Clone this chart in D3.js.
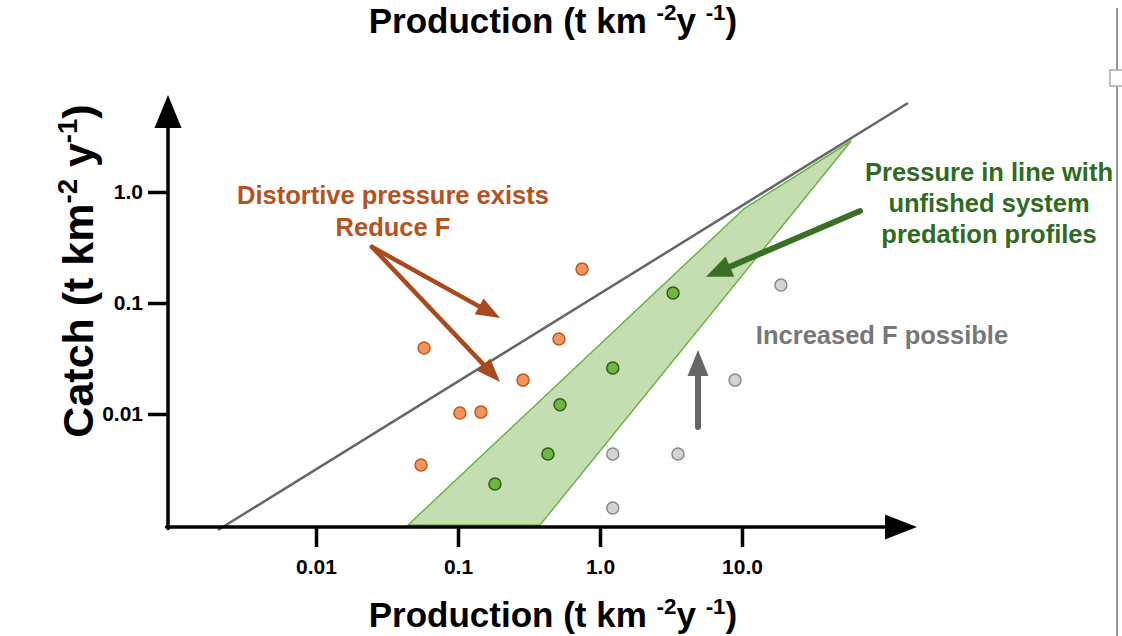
<!DOCTYPE html>
<html>
<head>
<meta charset="utf-8">
<script src="https://cdn.jsdelivr.net/npm/d3@7"></script>
<style>
  body { margin: 0; background: #fff; }
  svg text { font-family: "Liberation Sans", Arial, Helvetica, sans-serif; font-weight: bold; }
</style>
</head>
<body>
<div id="chart"></div>
<script>
////
// DATA
////
// production (x) and catch (y), both t km-2 y-1
const orange_x = [0.0577, 0.0549, 0.103, 0.145, 0.287, 0.514, 0.747];
const orange_y = [0.0393, 0.00347, 0.0102, 0.0104, 0.0202, 0.0474, 0.202];
const green_x = [0.182, 0.430, 0.523, 1.23, 3.27];
const green_y = [0.00234, 0.00436, 0.0121, 0.0260, 0.123];
const grey_x = [1.23, 3.54, 1.23, 8.93, 18.8];
const grey_y = [0.00436, 0.00436, 0.00142, 0.0202, 0.145];

// 1:1-ish reference line and the "in line with unfished system" band
const ref_x = [0.00204, 147.6];
const ref_y = [0.000902, 6.34];
const band_x = [0.0445, 10.3, 58.6, 0.378];
const band_y = [0.001, 0.703, 2.88, 0.001];

const x_ticks = [0.01, 0.1, 1, 10];
const x_tick_labels = ["0.01", "0.1", "1.0", "10.0"];
const y_ticks = [0.01, 0.1, 1];
const y_tick_labels = ["0.01", "0.1", "1.0"];

// annotation arrows, in data units: [x1, y1, x2, y2]
const brown_arrows = [[0.0248, 0.32, 0.198, 0.0732], [0.0248, 0.32, 0.198, 0.0194]];
const green_arrow = [67.8, 0.674, 5.58, 0.172];
const grey_arrow = [4.90, 0.00763, 4.90, 0.0377];

////
// CONTAINER
////
const W = 1122, H = 636;
const svg = d3.select("#chart").append("svg")
    .attr("width", W).attr("height", H);

const x = d3.scaleLog().domain([1e-3, 1e2]).range([174, 884]);
const y = d3.scaleLog().domain([1e-3, 1]).range([525, 192]);

const axis_y0 = 527, axis_x0 = 168;

// draws a line with a filled triangle head at (x2, y2)
function arrow(g, x1, y1, x2, y2, color, width, head_len, head_w) {
    const a = Math.atan2(y2 - y1, x2 - x1);
    const bx = x2 - head_len * Math.cos(a), by = y2 - head_len * Math.sin(a);
    g.append("line")
        .attr("x1", x1).attr("y1", y1).attr("x2", bx + Math.cos(a) * 2).attr("y2", by + Math.sin(a) * 2)
        .attr("stroke", color).attr("stroke-width", width).attr("stroke-linecap", "round");
    const px = -Math.sin(a) * head_w / 2, py = Math.cos(a) * head_w / 2;
    g.append("polygon")
        .attr("points", [[x2, y2], [bx + px, by + py], [bx - px, by - py]].map(p => p.join(",")).join(" "))
        .attr("fill", color);
}

// green band
svg.append("polygon")
    .attr("points", band_x.map((v, i) => x(v) + "," + y(band_y[i])).join(" "))
    .attr("fill", "#c4deb2")
    .attr("stroke", "#6cb249")
    .attr("stroke-width", 1.5)
    .attr("stroke-linejoin", "round");

// reference line
svg.append("line")
    .attr("x1", x(ref_x[0])).attr("y1", y(ref_y[0]))
    .attr("x2", x(ref_x[1])).attr("y2", y(ref_y[1]))
    .attr("stroke", "#666").attr("stroke-width", 2.5);

////
// AXES
////
const x_axis = svg.append("g")
    .attr("transform", `translate(0,${axis_y0})`)
    .call(d3.axisBottom(x).tickValues(x_ticks).tickFormat((d, i) => x_tick_labels[i]).tickSize(20).tickPadding(12));
const y_axis = svg.append("g")
    .attr("transform", `translate(${axis_x0},0)`)
    .call(d3.axisLeft(y).tickValues(y_ticks).tickFormat((d, i) => y_tick_labels[i]).tickSize(20).tickPadding(5));

[x_axis, y_axis].forEach(ax => {
    ax.select(".domain").remove();
    ax.selectAll(".tick line").attr("stroke", "#000").attr("stroke-width", 3.5);
    ax.selectAll(".tick text").attr("fill", "#000").style("font-size", "21px");
});

const axes = svg.append("g");
arrow(axes, axis_x0 - 1.5, axis_y0, 917, axis_y0, "#000", 3.5, 32, 25);
arrow(axes, axis_x0, axis_y0 + 1.5, axis_x0, 95, "#000", 3.5, 33, 27);

////
// POINTS
////
function dots(xs, ys, fill, stroke) {
    svg.append("g").selectAll("circle")
        .data(xs.map((v, i) => [v, ys[i]]))
        .enter().append("circle")
        .attr("cx", d => x(d[0]))
        .attr("cy", d => y(d[1]))
        .attr("r", 6)
        .attr("fill", fill)
        .attr("stroke", stroke)
        .attr("stroke-width", 1.5);
}
dots(orange_x, orange_y, "#f0955b", "#c4581e");
dots(green_x, green_y, "#6fb53f", "#2e5c1c");
dots(grey_x, grey_y, "#d4d4d4", "#8a8a8a");

////
// ANNOTATIONS
////
const notes = svg.append("g");
brown_arrows.forEach(a => arrow(notes, x(a[0]), y(a[1]), x(a[2]), y(a[3]), "#a84a1d", 4.5, 24, 18));
arrow(notes, x(green_arrow[0]), y(green_arrow[1]), x(green_arrow[2]), y(green_arrow[3]), "#3b6f26", 6, 26, 22);
arrow(notes, x(grey_arrow[0]), y(grey_arrow[1]), x(grey_arrow[2]), y(grey_arrow[3]), "#666", 6, 26, 21);

function note(lines, cx, y0, dy, color, size) {
    const t = notes.append("text")
        .attr("text-anchor", "middle")
        .attr("fill", color)
        .style("font-size", size + "px");
    lines.forEach((l, i) => t.append("tspan").attr("x", cx).attr("y", y0 + i * dy).text(l));
}
note(["Distortive pressure exists", "Reduce F"], 393, 204, 32, "#b4531f", 25.5);
note(["Pressure in line with", "unfished system", "predation profiles"], 989, 181, 31, "#2f6a1f", 25.5);
note(["Increased F possible"], 882, 344, 0, "#777", 25.5);

// axis titles with superscripts; the part after a superscript drops back down
function unit_title(g, parts, size) {
    const t = g.append("text").attr("text-anchor", "middle").attr("fill", "#000").style("font-size", size + "px");
    let raised = false;
    parts.forEach(p => {
        if (p.sup) {
            t.append("tspan").attr("dy", -size * 0.38).style("font-size", (size * 0.64) + "px").text(p.sup);
            raised = true;
        } else {
            t.append("tspan").attr("dy", raised ? size * 0.38 : 0).text(p.t);
            raised = false;
        }
    });
    return t;
}
const prod_parts = [{ t: "Production (t km " }, { sup: "-2" }, { t: "y " }, { sup: "-1" }, { t: ")" }];
unit_title(svg, prod_parts, 35).attr("x", 553).attr("y", 33);
unit_title(svg, prod_parts, 35).attr("x", 553).attr("y", 627);
unit_title(svg, [{ t: "Catch (t km" }, { sup: "-2" }, { t: " y" }, { sup: "-1" }, { t: ")" }], 43)
    .attr("transform", "translate(93,271) rotate(-90)");

// window edge from the original screenshot
svg.append("line").attr("x1", 1117).attr("y1", 8).attr("x2", 1117).attr("y2", H)
    .attr("stroke", "#999").attr("stroke-width", 2);
svg.append("rect").attr("x", 1110).attr("y", 70).attr("width", 14).attr("height", 16)
    .attr("fill", "#fff").attr("stroke", "#aaa").attr("stroke-width", 1.5);
</script>
</body>
</html>
